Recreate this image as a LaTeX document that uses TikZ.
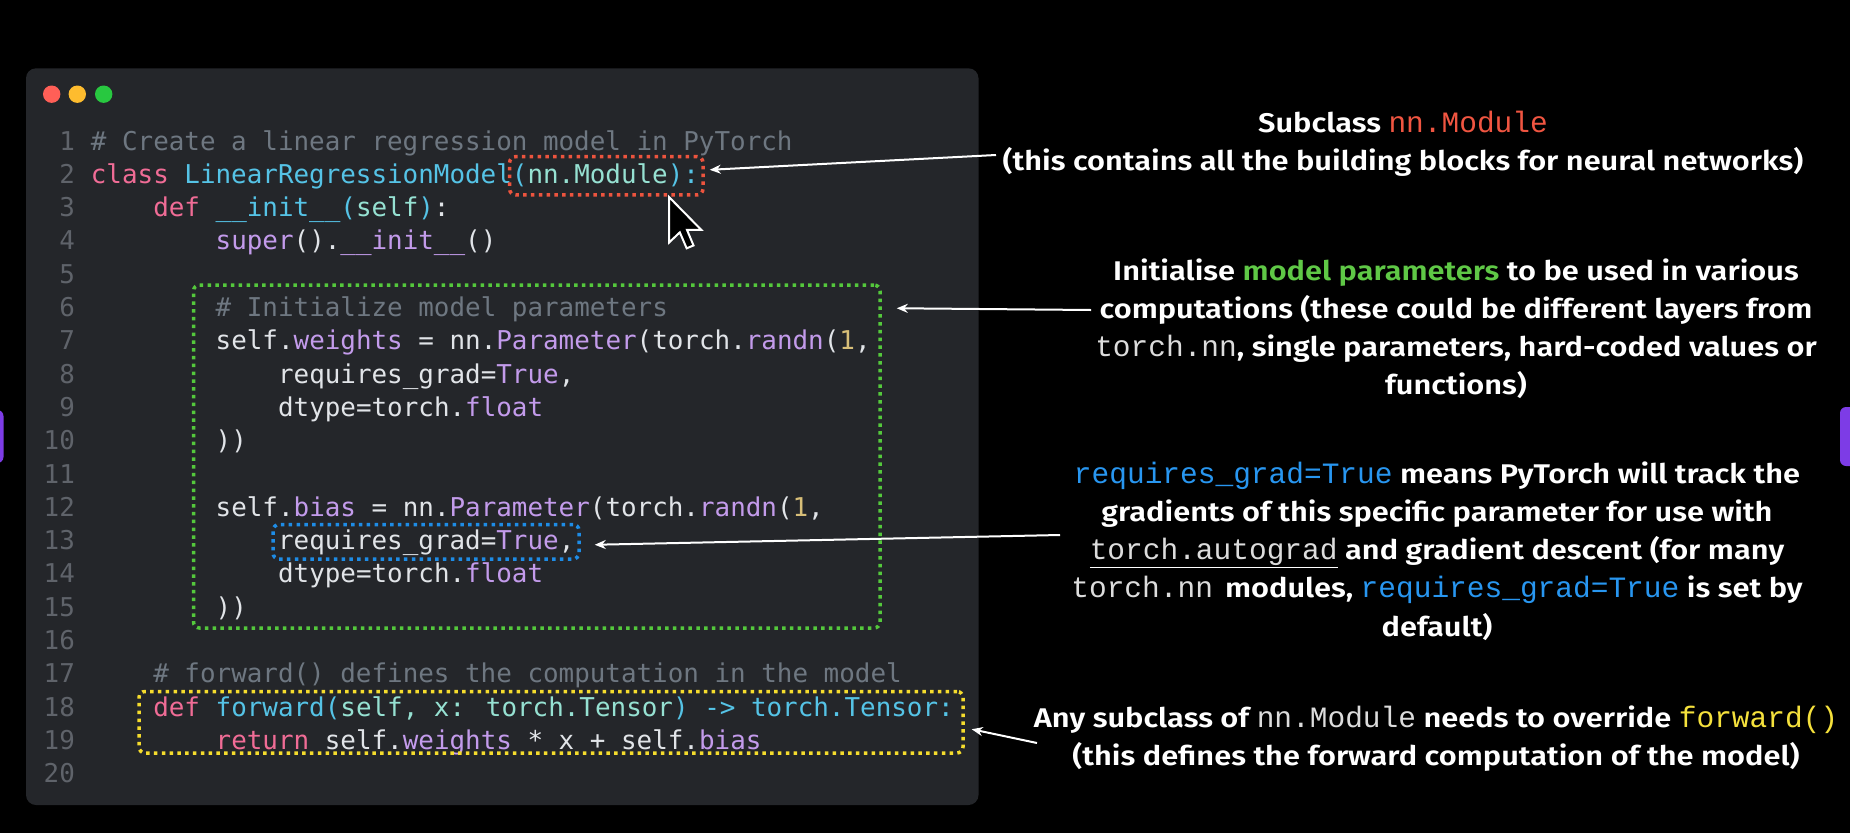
\documentclass[tikz,border=0pt]{standalone}
\usepackage{fontspec}
\usetikzlibrary{arrows.meta}
\newfontfamily\codefont{DejaVu Sans Mono}
\newfontfamily\annfont{Fira Sans}[FakeStretch=1.14, BoldFont={* SemiBold}]
\newfontfamily\anncodefont{Liberation Mono}
\definecolor{winbg}{RGB}{36,38,42}
\definecolor{lnumgray}{RGB}{95,99,106}
\definecolor{cmtgray}{RGB}{110,119,129}
\definecolor{kwpink}{RGB}{240,108,150}
\definecolor{cycol}{RGB}{85,195,230}
\definecolor{mintcol}{RGB}{150,225,210}
\definecolor{pucol}{RGB}{195,155,235}
\definecolor{numcol}{RGB}{215,190,120}
\definecolor{codewhite}{RGB}{225,228,232}
\definecolor{boxred}{RGB}{236,84,62}
\definecolor{boxgreen}{RGB}{84,200,60}
\definecolor{boxblue}{RGB}{30,140,230}
\definecolor{boxyellow}{RGB}{245,220,45}
\definecolor{annred}{RGB}{240,85,65}
\definecolor{anngreen}{RGB}{95,200,70}
\definecolor{annblue}{RGB}{40,150,240}
\definecolor{annyellow}{RGB}{245,225,60}
\definecolor{tlred}{RGB}{255,95,87}
\definecolor{tlyellow}{RGB}{254,188,46}
\definecolor{tlgreen}{RGB}{40,200,64}
\definecolor{tabpurple}{RGB}{125,60,230}
\definecolor{anncodegray}{RGB}{220,220,220}
\newcommand\Kw[1]{\textcolor{kwpink}{#1}}
\newcommand\Cy[1]{\textcolor{cycol}{#1}}
\newcommand\Mi[1]{\textcolor{mintcol}{#1}}
\newcommand\Pu[1]{\textcolor{pucol}{#1}}
\newcommand\Nu[1]{\textcolor{numcol}{#1}}
\newcommand\Cm[1]{\textcolor{cmtgray}{#1}}
\newcommand\Ac[1]{{\anncodefont\mdseries\fontsize{29.5pt}{38pt}\selectfont\color{anncodegray}#1}}
\tikzset{
  codeline/.style={anchor=base west, inner sep=0pt, text=codewhite,
    font=\codefont\fontsize{25.9pt}{33.3pt}\selectfont},
  lnum/.style={anchor=base east, inner sep=0pt, text=lnumgray,
    font=\codefont\fontsize{25.9pt}{33.3pt}\selectfont},
  ann/.style={anchor=base, inner sep=0pt, text=white,
    font=\annfont\bfseries\fontsize{27pt}{38pt}\selectfont},
  dotbox/.style={line width=3.5pt, dash pattern=on 3.5pt off 4.3pt,
    rounded corners=6pt, inner sep=0pt, fill=none},
  arr/.style={draw=white, line width=2pt, -{Stealth[length=11pt,width=9pt]}},
}
\begin{document}
\begin{tikzpicture}[x=1pt,y=-1pt]
\useasboundingbox (0,0) rectangle (1850,833);
\fill[black] (0,0) rectangle (1850,833);
% side tabs
\fill[tabpurple, rounded corners=6pt] (-12,410) rectangle (3.5,463);
\fill[tabpurple, rounded corners=6pt] (1840,407) rectangle (1862,466);
% window
\fill[winbg, rounded corners=10pt] (26,68.3) rectangle (978.5,805);
\fill[tlred] (51.7,94.2) circle (8.7);
\fill[tlyellow] (77.3,94.2) circle (8.7);
\fill[tlgreen] (103.7,94.2) circle (8.7);
% line numbers
\foreach \n in {1,...,20}{
  \node[lnum] (ln\n) at (75.1,{150+(\n-1)*33.3}) {\n};
}
% code lines (x = 90.7 + col*15.6)
\node[codeline] (c1) at (90.7,150) {\Cm{\# Create a linear regression model in PyTorch}};
\node[codeline] (c2) at (90.7,183.3) {\Kw{class} \Cy{LinearRegressionModel(}\Mi{nn.Module}\Cy{):}};
\node[codeline] (c3) at (153.1,216.6) {\Kw{def} \Cy{\_\_init\_\_(}\Mi{self}\Cy{)}:};
\node[codeline] (c4) at (215.5,249.9) {\Pu{super}().\Pu{\_\_init\_\_}()};
\node[codeline] (c6) at (215.5,316.5) {\Cm{\# Initialize model parameters}};
\node[codeline] (c7) at (215.5,349.8) {self.\Pu{weights} = nn.\Pu{Parameter}(torch.\Pu{randn}(\Nu{1},};
\node[codeline] (c8) at (277.9,383.1) {requires\_grad=\Pu{True},};
\node[codeline] (c9) at (277.9,416.4) {dtype=torch.\Pu{float}};
\node[codeline] (c10) at (215.5,449.7) {))};
\node[codeline] (c12) at (215.5,516.3) {self.\Pu{bias} = nn.\Pu{Parameter}(torch.\Pu{randn}(\Nu{1},};
\node[codeline] (c13) at (277.9,549.6) {requires\_grad=\Pu{True},};
\node[codeline] (c14) at (277.9,582.9) {dtype=torch.\Pu{float}};
\node[codeline] (c15) at (215.5,616.2) {))};
\node[codeline] (c17) at (153.1,682.8) {\Cm{\# forward() defines the computation in the model}};
\node[codeline] (c18) at (153.1,716.1) {\Kw{def} \Cy{forward(}\Mi{self, x: torch.Tensor}\Cy{) -> torch.Tensor:}};
\node[codeline] (c19) at (215.5,749.4) {\Kw{return} self.\Pu{weights} * x + self.\Pu{bias}};
% dotted highlight boxes
\node[dotbox, draw=boxred, minimum width=193.4pt, minimum height=38.3pt] (rbox) at (606.3,175.8) {};
\node[dotbox, draw=boxgreen, minimum width=686.5pt, minimum height=343pt] (gbox) at (536.75,456.5) {};
\node[dotbox, draw=boxblue, minimum width=306pt, minimum height=34.5pt] (bbox) at (426,541.75) {};
\node[dotbox, draw=boxyellow, minimum width=824pt, minimum height=61.5pt] (ybox) at (551,722.25) {};
% mouse cursor
\begin{scope}[shift={(669,197)}, scale=2.85]
\draw[fill=black, draw=white, line width=2pt, line join=miter]
  (0,0) -- (0,16) -- (3.8,12.4) -- (6.2,18) -- (8.6,17) -- (6.3,11.5) -- (11.3,11.5) -- cycle;
\end{scope}
% annotations
\node[ann] (a1l1) at (1403,132.5) {Subclass \Ac{\textcolor{annred}{nn.Module}}};
\node[ann] (a1l2) at (1403,170.5) {(this contains all the building blocks for neural networks)};
\node[ann] (a2l1) at (1456,280) {Initialise \textcolor{anngreen}{model parameters} to be used in various};
\node[ann] (a2l2) at (1456,318.3) {computations (these could be different layers from};
\node[ann] (a2l3) at (1456,356.6) {\Ac{torch.nn}, single parameters, hard-coded values or};
\node[ann] (a2l4) at (1456,394.9) {functions)};
\node[ann] (a3l1) at (1437,483) {\Ac{\textcolor{annblue}{requires\_grad=True}} means PyTorch will track the};
\node[ann] (a3l2) at (1437,521.3) {gradients of this specific parameter for use with};
\node[ann] (a3l3) at (1437,559.6) {\underline{\Ac{torch.autograd}} and gradient descent (for many};
\node[ann] (a3l4) at (1437,597.9) {\Ac{torch.nn}\hspace{12pt}modules, \Ac{\textcolor{annblue}{requires\_grad=True}} is set by};
\node[ann] (a3l5) at (1437,636.2) {default)};
\node[ann] (a4l1) at (1436,727) {Any subclass of \Ac{nn.Module} needs to override \Ac{\textcolor{annyellow}{forward()}}};
\node[ann] (a4l2) at (1436,765) {(this defines the forward computation of the model)};
% connectors
\coordinate (t1) at (996,155);
\coordinate (t2) at (1091,310);
\coordinate (t3) at (1060,535);
\coordinate (t4) at (1037,743);
\draw[arr] (t1) -- ([xshift=5pt,yshift=6pt]rbox.east);
\draw[arr] (t2) -- ([xshift=15pt,yshift=-25pt]gbox.north east);
\draw[arr] (t3) -- ([xshift=14pt,yshift=-3pt]bbox.east);
\draw[arr] (t4) -- ([xshift=7pt,yshift=-7pt]ybox.east);
\end{tikzpicture}
\end{document}
